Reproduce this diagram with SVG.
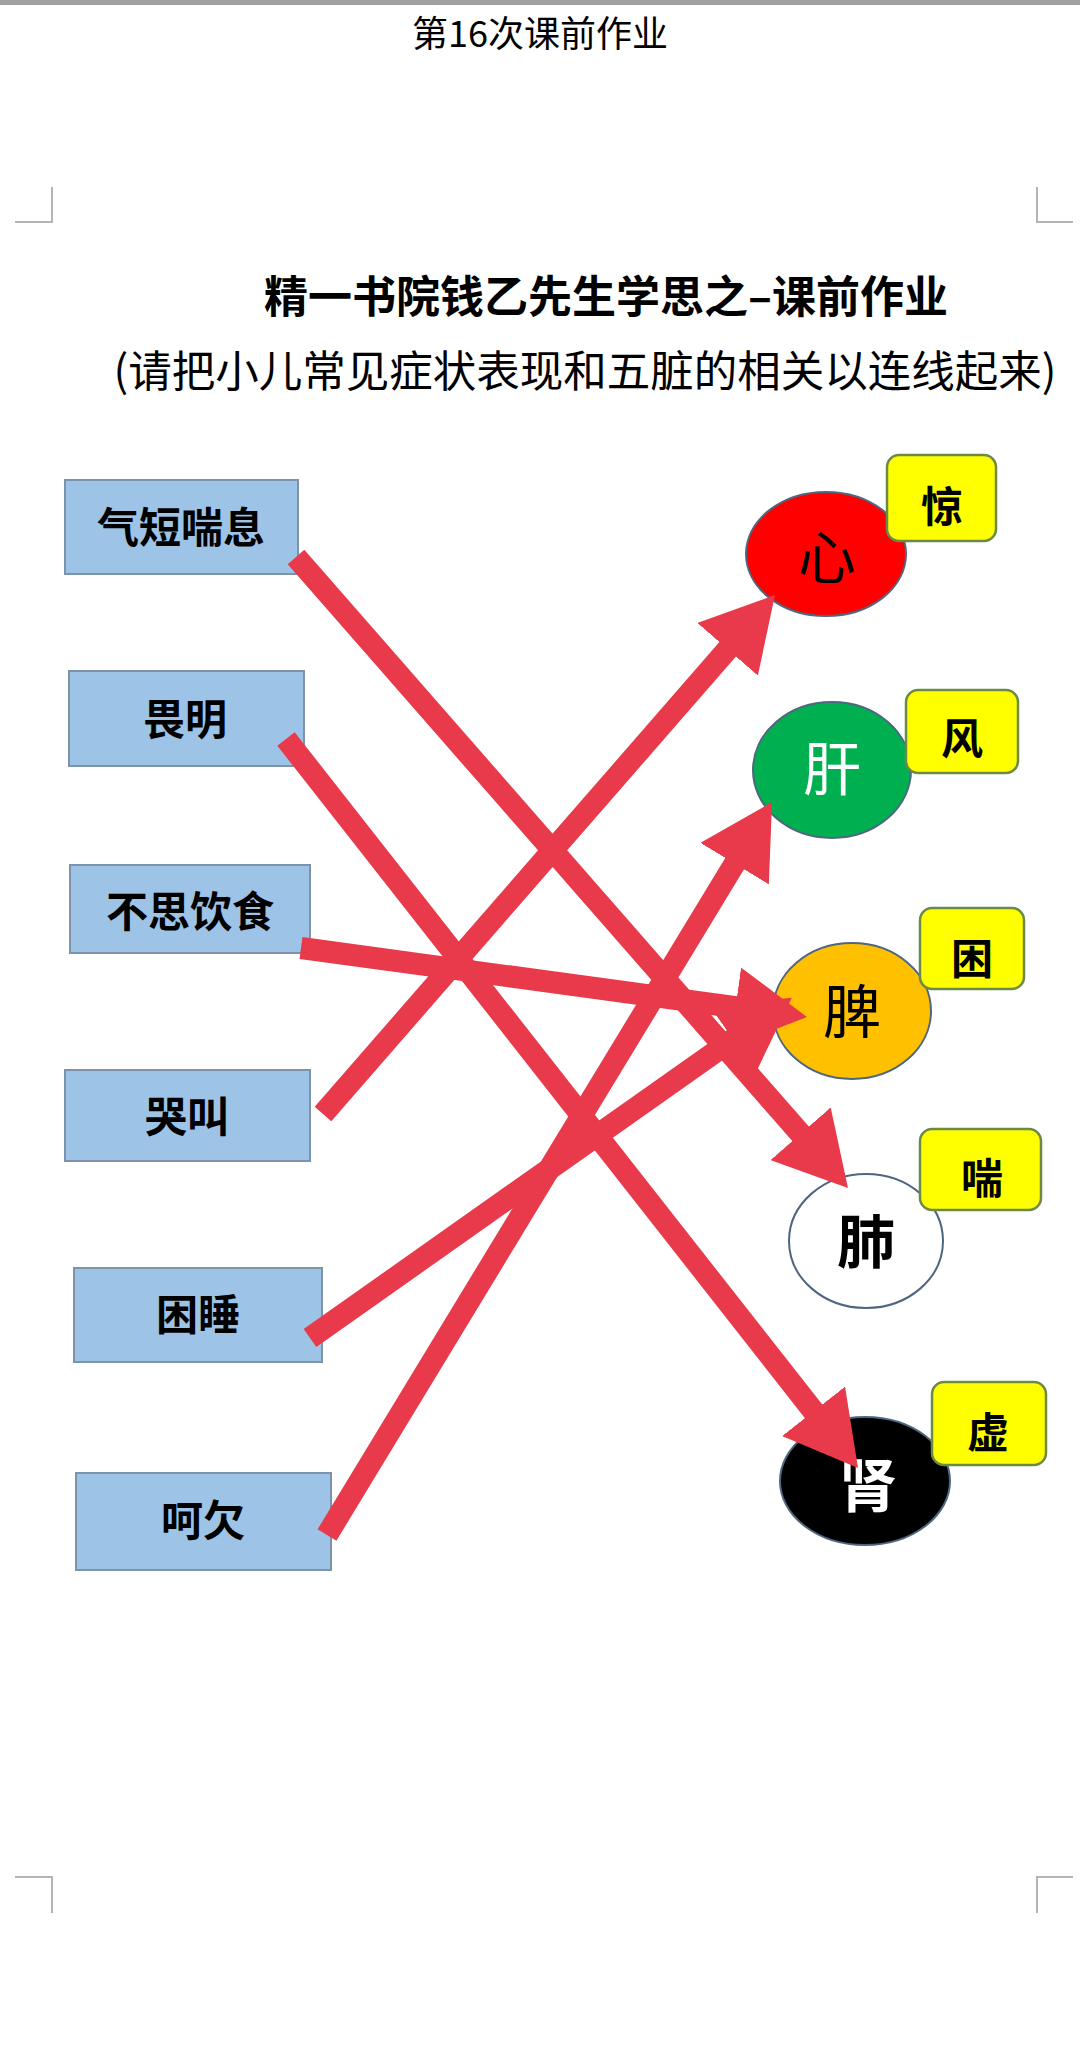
<svg xmlns="http://www.w3.org/2000/svg" width="1080" height="2046" viewBox="0 0 1080 2046">
<style>
text{font-family:"Noto Sans CJK SC","Noto Sans",sans-serif;text-anchor:middle;fill:#000}
.hdr{font-size:36px}
.ttl{font-size:44px;font-weight:bold}
.sub{font-size:43.5px}
.sym rect{fill:#9DC3E6;stroke:#7D93AC;stroke-width:2}
.sym text{font-size:42px;font-weight:bold}
.org ellipse{stroke:#4F6680;stroke-width:2}
.org text{font-size:58px}
.tag rect{fill:#FFFF00;stroke:#6B8A45;stroke-width:2.5}
.tag text{font-size:42px;font-weight:bold}
.crn{stroke:#B4B4B4;stroke-width:2;fill:none}
.arr{stroke:#E83A4B;stroke-width:22;fill:none;marker-end:url(#head)}
</style>
<defs>
<marker id="head" markerUnits="userSpaceOnUse" markerWidth="72" markerHeight="80" refX="2" refY="40" orient="auto" viewBox="0 0 72 80">
<path d="M0,0 L72,40 L0,80 Z" fill="#E83A4B"/>
</marker>
</defs>
<rect x="0" y="0" width="1080" height="2046" fill="#FFFFFF"/>
<rect x="0" y="0" width="1080" height="5" fill="#A0A0A0"/>
<g id="page-corners">
<path class="crn" d="M15,222 H52 V187"/>
<path class="crn" d="M1073,222 H1037 V187"/>
<path class="crn" d="M15,1877 H52 V1913"/>
<path class="crn" d="M1073,1877 H1037 V1913"/>
</g>
<g id="header"><text class="hdr" x="540" y="47">第16次课前作业</text></g>
<g id="title"><text class="ttl" x="606" y="313">精一书院钱乙先生学思之–课前作业</text></g>
<g id="subtitle"><text class="sub" x="585" y="387">(请把小儿常见症状表现和五脏的相关以连线起来)</text></g>

<g id="sym-qiduan" class="sym"><rect x="65" y="480" width="233" height="94"/><text x="181" y="543">气短喘息</text></g>
<g id="sym-weiming" class="sym"><rect x="69" y="671" width="235" height="95"/><text x="185" y="735">畏明</text></g>
<g id="sym-busi" class="sym"><rect x="70" y="865" width="240" height="88"/><text x="190" y="927">不思饮食</text></g>
<g id="sym-kujiao" class="sym"><rect x="65" y="1070" width="245" height="91"/><text x="187" y="1132">哭叫</text></g>
<g id="sym-kunshui" class="sym"><rect x="74" y="1268" width="248" height="94"/><text x="198" y="1330">困睡</text></g>
<g id="sym-heqian" class="sym"><rect x="76" y="1473" width="255" height="97"/><text x="203" y="1536">呵欠</text></g>

<g id="org-xin" class="org"><ellipse cx="826" cy="554" rx="80" ry="62" fill="#FF0000"/><text x="827" y="579">心</text></g>
<g id="org-gan" class="org"><ellipse cx="832" cy="770" rx="79" ry="68" fill="#00B050"/><text x="832" y="790" style="fill:#FFFFFF">肝</text></g>
<g id="org-pi" class="org"><ellipse cx="852" cy="1011" rx="79" ry="68" fill="#FFC000"/><text x="852" y="1033">脾</text></g>
<g id="org-fei" class="org"><ellipse cx="866" cy="1241" rx="77" ry="67" fill="#FFFFFF"/><text x="866" y="1263" style="font-weight:bold">肺</text></g>
<g id="org-shen" class="org"><ellipse cx="865" cy="1481" rx="85" ry="64" fill="#000000"/><text x="868" y="1507" style="fill:#FFFFFF;font-weight:bold">肾</text></g>

<g id="tag-jing" class="tag"><rect x="887" y="455" width="109" height="86" rx="12"/><text x="942" y="522">惊</text></g>
<g id="tag-feng" class="tag"><rect x="906" y="690" width="112" height="83" rx="12"/><text x="962" y="754">风</text></g>
<g id="tag-kun" class="tag"><rect x="920" y="908" width="104" height="81" rx="12"/><text x="972" y="974">困</text></g>
<g id="tag-chuan" class="tag"><rect x="920" y="1129" width="121" height="81" rx="12"/><text x="982" y="1194">喘</text></g>
<g id="tag-xu" class="tag"><rect x="932" y="1382" width="114" height="83" rx="12"/><text x="988" y="1448">虚</text></g>

<g id="connectors">
<line class="arr" x1="296" y1="557" x2="801.9" y2="1135.3"/>
<line class="arr" x1="286" y1="739" x2="814.8" y2="1412.9"/>
<line class="arr" x1="301" y1="948" x2="737.6" y2="1007.5"/>
<line class="arr" x1="323" y1="1114" x2="729" y2="647.8"/>
<line class="arr" x1="310" y1="1338" x2="734.7" y2="1038.2"/>
<line class="arr" x1="327" y1="1535" x2="735.7" y2="861.9"/>
</g>
</svg>
